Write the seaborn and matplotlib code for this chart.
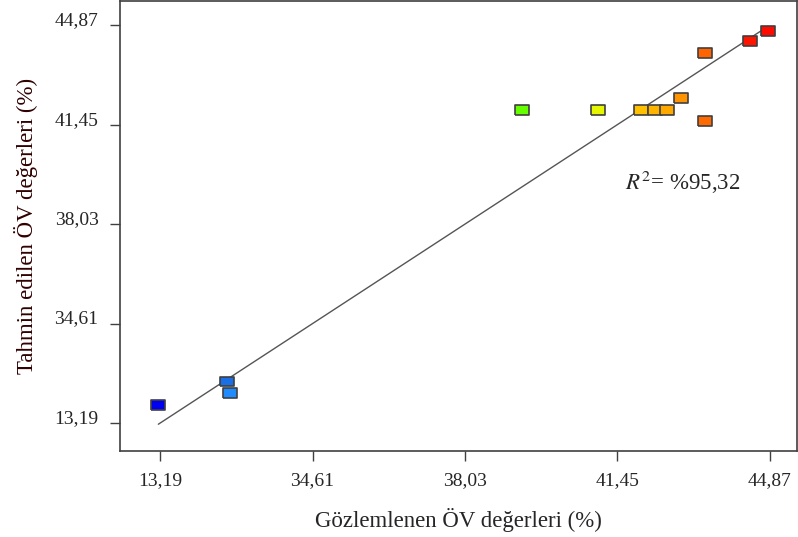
import numpy as np
import pandas as pd
import matplotlib
matplotlib.use("Agg")
import matplotlib.pyplot as plt
import seaborn as sns

# ---------------------------------------------------
# Data
# ---------------------------------------------------
gozlemlenen = [31.15, 32.69, 32.76, 39.31, 41.01, 41.98, 42.29, 42.56,
               42.87, 43.41, 43.41, 44.42, 44.83]
tahmin = [31.81, 32.62, 32.22, 41.95, 41.95, 41.95, 41.95, 41.95,
          42.38, 41.57, 43.92, 44.32, 44.66]
renkler = ["#0000f0", "#1a6fe6", "#1e8cff", "#66ff00", "#e6f500", "#ffc000",
           "#ffb400", "#ffa800", "#ff9400", "#ff6a00", "#ff6400", "#ff1400",
           "#ff0a00"]

tick_pos = [31.19, 34.61, 38.03, 41.45, 44.87]
tick_labels = ["13,19", "34,61", "38,03", "41,45", "44,87"]

df = pd.DataFrame({"obs": gozlemlenen, "pred": tahmin,
                   "grp": [str(i) for i in range(len(gozlemlenen))]})

# ---------------------------------------------------
# Plot
# ---------------------------------------------------
sns.set_style("white")
plt.rcParams["font.family"] = ["Liberation Serif", "DejaVu Serif"]
plt.rcParams["mathtext.fontset"] = "stix"

fig = plt.figure(figsize=(7.98, 5.37), dpi=100)
ax = fig.add_axes([120 / 798, 86 / 537, 677 / 798, 450 / 537])

# y = x line
lo, hi = min(gozlemlenen), max(gozlemlenen)
ax.plot([lo, hi], [lo, hi], color="#555555", lw=1.0, zorder=1)

# rectangular markers
rect = [(-1.4, -1), (1.4, -1), (1.4, 1), (-1.4, 1), (-1.4, -1)]
sns.scatterplot(data=df, x="obs", y="pred", hue="grp", palette=renkler,
                marker=rect, s=100, edgecolor="#404040", linewidth=1.2,
                legend=False, ax=ax, zorder=3)

ax.set_xlim(30.29, 45.48)
ax.set_ylim(30.23, 45.70)
ax.set_xticks(tick_pos)
ax.set_xticklabels(tick_labels, fontsize=14)
ax.set_yticks(tick_pos)
ax.set_yticklabels(tick_labels, fontsize=14, va="baseline")
ax.tick_params(axis="both", direction="out", length=7, width=1,
               color="#404040", left=True, bottom=True)
ax.tick_params(axis="x", pad=8)
ax.tick_params(axis="y", pad=8.5)

for sp in ax.spines.values():
    sp.set_color("#404040")
    sp.set_linewidth(1.2)

ax.set_xlabel("Gözlemlenen ÖV değerleri (%)", fontsize=16.5, labelpad=14)
ax.set_ylabel("Tahmin edilen ÖV değerleri (%)", fontsize=16.5, labelpad=12,
              color="#300000")

ax.text(41.62, 39.47, r"$R^{2}$= %95,32", fontsize=16.5, va="center",
        ha="left")

fig.savefig("out.png", dpi=100)
